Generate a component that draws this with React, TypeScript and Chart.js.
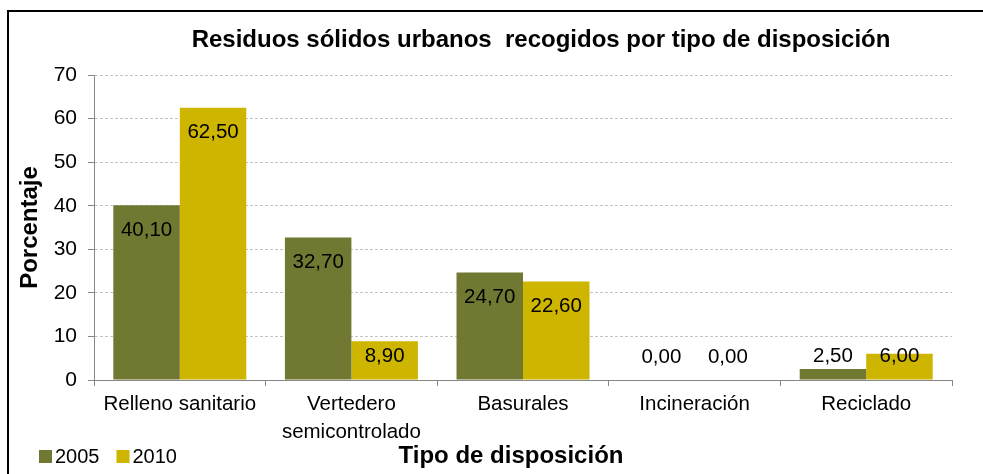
import React, { useEffect, useRef } from "react";
import { Chart, registerables } from "chart.js";

Chart.register(...registerables);

const chartTitle = "Residuos sólidos urbanos  recogidos por tipo de disposición";
const xAxisTitle = "Tipo de disposición";
const yAxisTitle = "Porcentaje";
const categories: (string | string[])[] = [
  "Relleno sanitario",
  ["Vertedero", "semicontrolado"],
  "Basurales",
  "Incineración",
  "Reciclado",
];
const seriesNames = ["2005", "2010"];
const values2005 = [40.1, 32.7, 24.7, 0.0, 2.5];
const values2010 = [62.5, 8.9, 22.6, 0.0, 6.0];
const yMin = 0;
const yMax = 70;
const yStep = 10;
const seriesColors = ["#707832", "#CDB500"];

const FONT = "'Liberation Sans', Arial, Helvetica, sans-serif";

const fmt = (v: number) => v.toFixed(2).replace(".", ",");

const decorPlugin = {
  id: "decor",
  beforeDraw(chart: any) {
    const ctx = chart.ctx;
    ctx.save();
    ctx.fillStyle = "#000";
    ctx.fillRect(7, 10, 2, chart.height - 10);
    ctx.fillRect(7, 10, chart.width - 7, 2);
    ctx.restore();
  },
  afterDatasetsDraw(chart: any) {
    const ctx = chart.ctx;
    ctx.save();
    ctx.font = `20.5px ${FONT}`;
    ctx.fillStyle = "#000";
    ctx.textAlign = "center";
    ctx.textBaseline = "middle";
    chart.data.datasets.forEach((ds: any, i: number) => {
      const meta = chart.getDatasetMeta(i);
      meta.data.forEach((el: any, j: number) => {
        const v = ds.data[j];
        const y = Math.min(el.y + 25, el.base - 23);
        ctx.fillText(fmt(v), el.x, y);
      });
    });
    ctx.restore();
  },
  afterDraw(chart: any) {
    const ctx = chart.ctx;
    ctx.save();
    ctx.fillStyle = "#000";
    ctx.textBaseline = "middle";
    // Title
    ctx.font = `bold 24px ${FONT}`;
    ctx.textAlign = "center";
    ctx.fillText(chartTitle, 541, 40);
    // X axis title
    ctx.fillText(xAxisTitle, 511, 456);
    // Legend
    ctx.font = `20px ${FONT}`;
    ctx.textAlign = "left";
    let x = 39;
    chart.data.datasets.forEach((ds: any) => {
      ctx.fillStyle = ds.backgroundColor;
      ctx.fillRect(x, 450, 13, 13);
      ctx.fillStyle = "#000";
      ctx.fillText(ds.label, x + 16, 457);
      x += 16 + ctx.measureText(ds.label).width + 17;
    });
    ctx.restore();
  },
};

export default function App() {
  const ref = useRef<HTMLCanvasElement | null>(null);
  useEffect(() => {
    if (!ref.current) return;
    const chart = new Chart(ref.current, {
      type: "bar",
      data: {
        labels: categories,
        datasets: [
          {
            label: seriesNames[0],
            data: values2005,
            backgroundColor: seriesColors[0],
            borderWidth: 0,
            categoryPercentage: 0.775,
            barPercentage: 1,
          },
          {
            label: seriesNames[1],
            data: values2010,
            backgroundColor: seriesColors[1],
            borderWidth: 0,
            categoryPercentage: 0.775,
            barPercentage: 1,
          },
        ],
      },
      options: {
        responsive: false,
        animation: false,
        devicePixelRatio: 1,
        layout: { padding: { top: 75, right: 31, bottom: 0, left: 0 } },
        plugins: {
          legend: { display: false },
          title: { display: false },
          tooltip: { enabled: false },
        },
        scales: {
          x: {
            offset: true,
            grid: {
              display: true,
              drawOnChartArea: false,
              drawTicks: true,
              tickLength: 6,
              offset: true,
              color: "#868686",
              tickColor: "#868686",
            },
            border: { display: true, color: "#868686", width: 1 },
            ticks: {
              color: "#000",
              font: { family: FONT, size: 20.5, lineHeight: 1.35 },
              padding: 5,
              maxRotation: 0,
              autoSkip: false,
            },
            afterFit: (s: any) => {
              s.height = 94;
            },
          },
          y: {
            min: yMin,
            max: yMax,
            ticks: {
              stepSize: yStep,
              color: "#000",
              font: { family: FONT, size: 21, lineHeight: 1.2 },
              padding: 11,
            },
            grid: {
              color: "#c4c4c4",
              tickColor: "#868686",
              tickLength: 6,
              drawTicks: true,
            },
            border: { display: true, color: "#868686", width: 1, dash: [3, 2] },
            title: {
              display: true,
              text: yAxisTitle,
              color: "#000",
              font: { family: FONT, size: 24, weight: "bold", lineHeight: 1.2 },
              padding: { top: 16, bottom: 0 },
            },
            afterFit: (s: any) => {
              s.width = 94;
            },
          },
        },
      },
      plugins: [decorPlugin],
    });
    return () => chart.destroy();
  }, []);
  return (
    <div
      style={{
        position: "fixed",
        left: 0,
        top: 0,
        width: 983,
        height: 474,
        overflow: "hidden",
        background: "#fff",
      }}
    >
      <canvas ref={ref} width={983} height={474} style={{ display: "block" }} />
    </div>
  );
}
